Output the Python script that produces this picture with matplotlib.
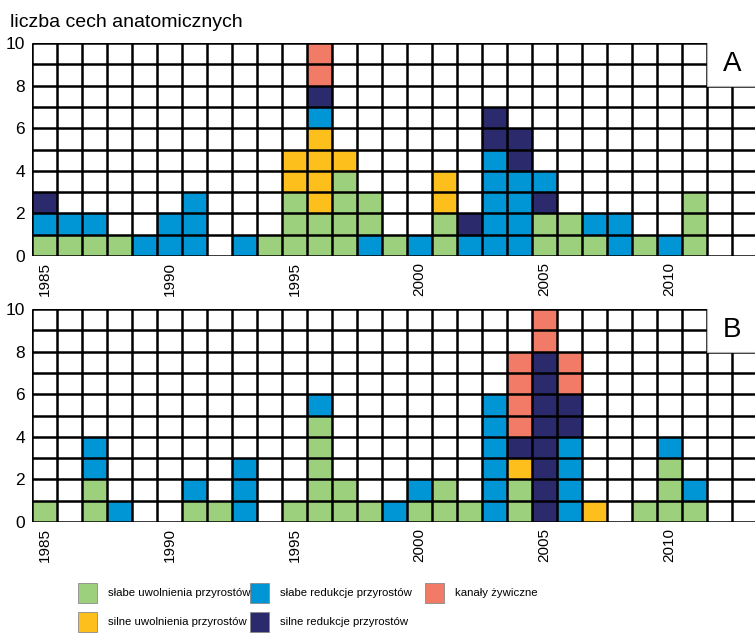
import matplotlib.pyplot as plt
from matplotlib.patches import Rectangle

plt.rcParams['font.family'] = ['Liberation Sans', 'DejaVu Sans']

# kategorie cech: kod -> (kolor, opis)
cat_codes = ['g', 'o', 'b', 'n', 'r']
cat_colors = {'g': '#9dd07d', 'o': '#fdbf1b', 'b': '#0096d6',
              'n': '#2b2a6c', 'r': '#f27b67'}
cat_labels = {'g': 'słabe uwolnienia przyrostów',
              'o': 'silne uwolnienia przyrostów',
              'b': 'słabe redukcje przyrostów',
              'n': 'silne redukcje przyrostów',
              'r': 'kanały żywiczne'}

years = list(range(1985, 2014))

# kolejne komórki od dołu, jeden napis na rok
stacks_A = ['gbn', 'gb', 'gb', 'g', 'b', 'bb', 'bbb', '', 'b', 'g',
            'gggoo', 'ggoooobnrr', 'ggggo', 'bgg', 'g', 'b', 'ggoo', 'bn',
            'bbbbbnn', 'bbbbnn', 'ggnb', 'gg', 'gb', 'bb', 'g', 'b', 'ggg',
            '', '']
stacks_B = ['g', '', 'ggbb', 'b', '', '', 'gb', 'g', 'bbb', '',
            'g', 'gggggb', 'gg', 'g', 'b', 'gb', 'gg', 'g',
            'bbbbbb', 'ggonrrrr', 'nnnnnnnnrr', 'bbbbnnrr', 'o', '', 'g',
            'gggb', 'gb', '', '']

fig = plt.figure(figsize=(7.55, 6.33), dpi=100)

x0 = 1984.5
x1 = x0 + 723 / 25.0


def draw_panel(ax, stacks, letter):
    for yr, st in zip(years, stacks):
        for i, c in enumerate(st):
            ax.bar(yr, 1, bottom=i, width=1, color=cat_colors[c],
                   linewidth=0, zorder=2)
    ax.vlines([x0 + k for k in range(len(years) + 1)], 0, 10,
              color='black', lw=1.8, zorder=3)
    ax.hlines(range(0, 11), x0, x1, color='black', lw=1.8, zorder=3)
    # pole z literą panelu
    ax.add_patch(Rectangle((2011.5, 8), 3, 2.2, facecolor='white',
                           edgecolor='#b5b5b5', lw=0.8, zorder=4,
                           clip_on=True))
    ax.text(2012.5, 9, letter, fontsize=20, ha='center', va='center',
            zorder=5)
    ax.set_xlim(x0, x1)
    ax.set_ylim(0, 10)
    for s in ax.spines.values():
        s.set_visible(False)
    ax.set_yticks(range(0, 11, 2))
    ax.set_xticks(range(1985, 2011, 5))
    ax.tick_params(axis='y', length=0, pad=5, labelsize=12.5)
    ax.tick_params(axis='x', length=0, pad=4, labelsize=11,
                   labelrotation=90)


axA = fig.add_axes([32 / 755, 377 / 633, 723 / 755, 213 / 633])
axB = fig.add_axes([32 / 755, 111 / 633, 723 / 755, 213 / 633])
draw_panel(axA, stacks_A, 'A')
draw_panel(axB, stacks_B, 'B')

fig.text(10 / 755, 1 - 27 / 633, 'liczba cech anatomicznych',
         fontsize=14, va='baseline', ha='left')

# legenda
legend_pos = {'g': (78, 593), 'b': (250, 593), 'r': (425, 593),
              'o': (78, 622), 'n': (250, 622)}
for c in cat_codes:
    px, py = legend_pos[c]
    fig.patches.append(Rectangle((px / 755, 1 - (py + 10) / 633),
                                 19 / 755, 20 / 633,
                                 facecolor=cat_colors[c], edgecolor='#8a8a8a',
                                 lw=0.6, transform=fig.transFigure,
                                 figure=fig))
    fig.text((px + 30) / 755, 1 - py / 633, cat_labels[c], fontsize=8.2,
             va='center', ha='left')

fig.savefig('out.png', dpi=100)
